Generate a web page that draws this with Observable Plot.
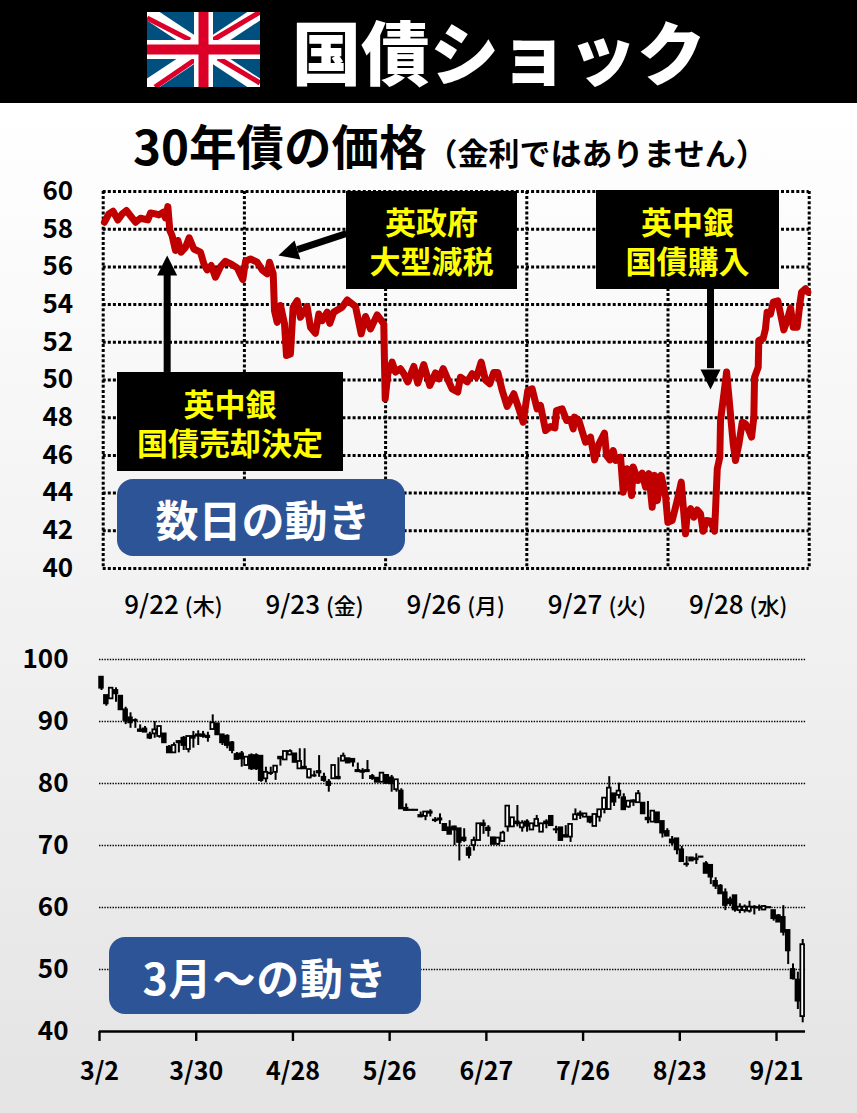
<!DOCTYPE html>
<html lang="ja"><head><meta charset="utf-8">
<script src="https://cdn.jsdelivr.net/npm/d3@7"></script>
<script src="https://cdn.jsdelivr.net/npm/@observablehq/plot@0.6"></script>
<style>
html,body{margin:0;padding:0}
body{width:857px;height:1113px;position:relative;overflow:hidden;font-family:"Noto Sans CJK JP","Noto Sans",sans-serif;background:linear-gradient(#ffffff 103px,#e4e4e4 1113px)}
.abs{position:absolute}
.box{position:absolute;background:#000;color:#ff0;font-weight:700;font-size:31px;line-height:39px;display:flex;align-items:center;justify-content:center;text-align:center}
.pill{position:absolute;background:#2c5496;color:#fff;font-weight:700;font-size:43px;border-radius:16px;display:flex;align-items:center;justify-content:center;white-space:nowrap}
</style></head><body>
<div class="abs" style="left:0;top:0;width:857px;height:103px;background:#000"></div>
<svg class="abs" style="left:147px;top:12px" width="113" height="75" viewBox="0 0 113 75">
<rect width="113" height="75" fill="#00507f"/>
<g stroke="#fff" stroke-width="14"><line x1="0" y1="0" x2="113" y2="75"/><line x1="113" y1="0" x2="0" y2="75"/></g>
<g stroke="#dc0028" stroke-width="5"><line x1="0" y1="6" x2="43" y2="28"/><line x1="113" y1="0" x2="66" y2="28"/><line x1="71" y1="46" x2="113" y2="71"/><line x1="49" y1="47" x2="8" y2="75"/></g>
<rect x="47" width="19" height="75" fill="#fff"/><rect y="28" width="113" height="19" fill="#fff"/>
<rect x="51.5" width="10" height="75" fill="#dc0028"/><rect y="32.5" width="113" height="10" fill="#dc0028"/>
</svg>
<div class="abs" id="title" style="left:292px;top:0;height:100px;line-height:100px;color:#fff;font-weight:900;font-size:69px;white-space:nowrap">国債ショック</div>
<div class="abs" id="sub" style="left:133px;top:115px;height:60px;line-height:60px;color:#000;font-weight:700;font-size:47.5px;white-space:nowrap">30年債の価格<span style="font-size:31px;margin-left:0">（金利ではありません）</span></div>
<script>
// 30-year gilt price, intraday (x = trading days since 9/22 open)
const lineDays = [.009,.04,.07,.104,.134,.165,.198,.229,.264,.316,.335,.37,.394,.425,.441,.458,.472,.488,.512,.529,.552,.583,.609,.642,.689,.713,.736,.765,.795,.831,.866,.913,.949,.989,1.008,1.043,1.09,1.126,1.161,1.178,1.204,1.213,1.232,1.256,1.284,1.298,1.326,1.345,1.374,1.397,1.444,1.468,1.503,1.527,1.551,1.586,1.605,1.633,1.692,1.728,1.787,1.827,1.858,1.893,1.94,1.987,1.997,2.016,2.046,2.07,2.105,2.129,2.157,2.2,2.228,2.27,2.313,2.353,2.377,2.408,2.448,2.471,2.511,2.53,2.578,2.613,2.644,2.677,2.707,2.738,2.766,2.795,2.826,2.861,2.908,2.944,2.974,3.007,3.038,3.073,3.097,3.133,3.168,3.199,3.21,3.25,3.282,3.31,3.329,3.338,3.369,3.416,3.451,3.48,3.51,3.55,3.565,3.588,3.612,3.628,3.664,3.683,3.711,3.742,3.754,3.787,3.817,3.841,3.864,3.888,3.905,3.924,3.952,3.983,3.999,4.03,4.065,4.094,4.124,4.136,4.16,4.183,4.207,4.23,4.249,4.273,4.301,4.33,4.349,4.367,4.372,4.396,4.415,4.438,4.462,4.478,4.502,4.526,4.549,4.573,4.592,4.608,4.613,4.639,4.643,4.674,4.69,4.702,4.726,4.745,4.778,4.797,4.82,4.844,4.868,4.887,4.915,4.934,4.946,4.974,4.99];
const linePrices = [58.37,58.81,58.95,58.49,58.81,58.99,58.67,58.37,58.58,58.49,58.86,58.81,58.76,58.9,58.6,59.2,57.93,57.66,56.87,57.4,56.78,57.04,57.54,56.95,56.78,56.16,55.84,56.07,55.45,56.02,56.3,56.12,55.95,55.33,56.3,56.42,56.25,55.84,55.63,56.25,55.63,53.68,53.06,53.95,52.98,51.3,51.38,53.86,54.21,53.33,53.9,52.8,52.48,53.5,53.15,53.6,53.0,53.6,53.86,54.25,53.9,52.45,53.37,52.71,53.45,52.98,49.0,50.33,50.95,50.42,50.6,50.33,49.9,50.72,49.83,50.82,49.71,50.38,50.06,50.6,49.9,49.53,49.36,50.15,49.9,50.33,50.15,50.95,50.0,49.8,50.4,50.4,49.44,48.6,49.27,48.47,47.76,49.44,49.53,48.47,48.65,47.32,47.53,47.46,48.38,48.47,47.85,47.9,47.41,48.03,47.85,46.7,46.97,45.76,46.6,47.18,45.99,45.76,46.26,45.73,45.91,44.05,45.29,43.87,45.38,44.67,45.06,44.32,45.03,43.25,44.94,43.6,44.94,43.8,42.46,42.55,43.6,44.58,41.84,42.9,43.17,42.72,43.11,42.9,41.98,42.55,42.51,41.98,45.29,45.9,47.85,49.27,50.42,48.56,46.6,45.73,46.6,47.76,47.67,47.32,46.97,48.03,50.15,50.68,52.1,52.2,52.7,53.6,53.5,54.13,54.2,53.5,52.66,53.16,53.83,52.8,52.8,54.04,54.66,54.84,54.66];
const dayLabels = ["9/22","9/23","9/26","9/27","9/28"];
const weekdays = ["(木)","(金)","(月)","(火)","(水)"];
const dayMids = [.5,1.5,2.5,3.5,4.5];
const priceTicks1 = [40,42,44,46,48,50,52,54,56,58,60];
const dayGrid = [0,1,2,3,4,5];

// daily candles since March
const opens = [97.15,94.19,93.65,95.0,94.08,91.88,90.59,90.16,88.65,88.8,
87.85,88.0,87.58,88.0,85.86,84.94,86.77,87.3,85.48,87.58,
87.85,87.85,87.63,88.7,89.62,87.85,87.63,86.56,84.67,84.78,
82.9,84.5,84.5,84.4,80.75,81.66,81.8,83.97,83.8,84.6,
84.78,82.36,82.63,80.9,81.25,81.93,81.0,80.2,80.76,81.0,
83.6,84,83.9,82.1,82,82.1,81.13,80.86,80.2,81.3,
80.9,79,78.77,76,75.7,75.7,74.84,74.7,75.4,74.1,
74.3,73.4,72.85,73,72.7,71.2,69.5,70,70.8,73.5,
72.8,71.24,70.2,70.65,73,73,73.8,72.85,73.8,72.5,
73.1,72.15,73.8,74.7,72.55,72.85,71.6,71.35,74.15,75.1,
74.57,74.57,73.07,74.57,75.8,75.8,78.34,78.07,77.7,76.2,
77.2,76.9,76.83,74.4,73.77,75.27,73.87,72.26,70.9,71.08,
69.3,67,68,67.86,68.15,67.05,66.8,64.2,63.44,62.37,
61.24,61.9,59.5,59.5,59.4,60.06,60,59.6,60,59.5,
58.66,58.4,56.3,50,48.3,42.4];
const closes = [95.37,92.85,95.37,94.46,91.88,90.16,89.78,90.1,88.4,88.27,
87.3,88.65,89.19,86.56,84.94,86.13,86.56,86.13,87.58,87.3,
87.63,87.58,87.4,89.78,87.85,86.56,86.13,85.32,83.87,83.97,
84.24,82.36,82.36,80.48,81.8,81.6,82.8,84.24,85.16,85.16,
83.4,83.55,82.36,82.25,81.2,81.7,80.48,79.67,82.9,80.76,
84.4,83.3,83.45,81.9,81.8,81.9,80.8,80.2,81.67,80,
79.95,80.6,75.9,75.65,75.65,75.65,74.6,75.4,75.2,74,
74.1,72.4,71.8,72.5,70.5,70.8,68.4,70.8,73.5,73.2,
72.4,70.17,71.2,72,76.35,74.47,73.5,73.6,73.1,73.5,
74.2,73.5,73.5,73.2,72.5,70.8,71.35,73.4,74.95,74.85,
75.1,73.77,75,75.76,77.64,79.25,77,78.77,75.76,77.15,
77,78.34,75.1,74.14,75.54,73.66,72,71.5,70.4,69.3,
67.4,66.9,67.5,67.7,68.1,65.5,64.9,63.44,62.2,60.33,
60.6,59.6,60.06,60.06,60.06,59.96,59.9,60.16,59.95,58.2,
57.64,56,53,48.5,44.9,54];
const highs = [97.15,94.19,95.37,95.43,94.08,92.3,91.4,90.43,89.46,89.2,
88.27,90.0,89.19,88.0,86.13,86.56,86.93,87.58,87.58,88.4,
88.5,88.4,88.27,91.07,89.62,87.85,87.85,86.77,85.0,85.16,
84.24,84.78,84.78,84.4,82.63,82.63,82.8,84.24,85.16,85.43,
84.78,85.6,85.6,82.25,82.0,84.5,81.66,80.64,82.9,84.15,
84.9,84,83.9,83.3,82.4,83.7,81.46,80.86,81.67,81.4,
81.3,80.6,79.15,76.7,75.7,75.7,75.4,75.4,75.76,74.5,
75.1,73.4,74,73.1,72.7,72.7,69.8,71.35,73.5,74.1,
73.2,71.24,71.2,72.3,76.35,74.47,76.45,74,74.15,73.5,
74.85,73.5,74.15,74.7,73.1,72.85,73.2,73.4,75.9,75.54,
75.1,74.57,75,75.76,77.64,81.1,78.34,80.06,78.34,77.15,
77.37,78.87,76.83,77.1,75.54,75.27,73.87,72.7,71.45,71.08,
69.84,68.2,68,68.66,68.15,67.4,66.8,64.8,63.7,63,
61.67,61.9,60.6,60.4,61,60.3,60.4,60.3,60,59.5,
58.87,60.3,56.3,50.9,49.57,54.84];
const lows = [95.0,92.47,93.65,93.1,91.88,89.5,88.9,88.9,88.27,88.27,
87.09,87.3,87.3,86.56,84.94,84.94,84.94,85.32,84.94,85.7,
86.13,87.3,86.66,88.7,87.85,86.13,85.6,84.8,83.87,82.63,
82.9,82.1,82.1,80.2,80.1,81.3,80.5,82.8,83.8,84.5,
83.4,82.36,82.36,80.75,81.0,81.0,80.2,78.6,80.76,80.6,
83.6,83.3,82.64,81.9,80.65,81.9,80.5,80.2,80.2,80,
78.6,78.6,75.9,75.5,75.65,75.65,74.5,74,74.6,73.7,
73.4,72.4,71.8,70,67.5,70.5,67.85,69.1,70.8,71.8,
71.35,70.17,70,70.65,72.15,73,73,72.15,72.15,72.5,
73.1,72.15,72.7,73.2,71.9,70.8,71.24,70.5,74.15,74.2,
74.57,73.5,73.07,73.77,75.1,75.8,76.3,77.5,75.76,76,
76.3,76.9,75.1,73.5,73.77,73.66,71.2,71.5,70,68.5,
67.3,66.5,67.5,66.94,68.1,65.5,63.7,62.9,62.2,59.5,
60.16,59.25,59,59.1,59.1,58.8,59.4,59.5,59.95,57.8,
57.64,55.4,50.8,48.3,43.55,41.4];
const dateLabels = ["3/2","3/30","4/28","5/26","6/27","7/26","8/23","9/21"];
const dateTicks = [0,20,40,60,80,100,120,140];
const priceTicks2 = [40,50,60,70,80,90,100];

const font = '"Noto Sans CJK JP","Noto Sans",sans-serif';
const lineData = lineDays.map((d,i)=>({d,p:linePrices[i]}));
const dashGrid = {stroke:"#000",strokeWidth:3,strokeDasharray:"3 2.1"};

// annotation arrows, in the chart's own units
const upShaft = [{x:.453,y1:50.4,y2:55.6}];
const upHead = [{x:.382,y:55.54},{x:.453,y:56.6},{x:.524,y:55.54}];
const downShaft = [{x:4.301,y1:50.6,y2:54.8}];
const downHead = [{x:4.23,y:50.56},{x:4.301,y:49.5},{x:4.372,y:50.56}];
const leftShaft = [{x1:1.376,y1:56.92,x2:1.723,y2:57.77}];
const leftHead = [{x:1.397,y:56.39},{x:1.241,y:56.6},{x:1.355,y:57.4}];

const chart1 = Plot.plot({
  width:857,height:468,marginLeft:102.7,marginRight:48.3,marginTop:21,marginBottom:70,
  style:{background:"transparent",fontFamily:font},
  x:{domain:[0,5],axis:null},
  y:{domain:[40,60],axis:null},
  marks:[
    Plot.ruleY(priceTicks1,{...dashGrid}),
    Plot.ruleX(dayGrid,{...dashGrid}),
    Plot.axisY({ticks:priceTicks1,tickSize:0,tickPadding:30,fontSize:26,fontWeight:700,label:null,color:"#000"}),
    Plot.line(lineData,{x:"d",y:"p",stroke:"#c00000",strokeWidth:7,strokeLinejoin:"round",strokeLinecap:"round",curve:"linear"}),
    Plot.ruleX(upShaft,{x:"x",y1:"y1",y2:"y2",stroke:"#000",strokeWidth:7}),
    Plot.line(upHead,{x:"x",y:"y",fill:"#000",stroke:"none"}),
    Plot.ruleX(downShaft,{x:"x",y1:"y1",y2:"y2",stroke:"#000",strokeWidth:7}),
    Plot.line(downHead,{x:"x",y:"y",fill:"#000",stroke:"none"}),
    Plot.link(leftShaft,{x1:"x1",y1:"y1",x2:"x2",y2:"y2",stroke:"#000",strokeWidth:7}),
    Plot.line(leftHead,{x:"x",y:"y",fill:"#000",stroke:"none"}),
    Plot.text(dayMids,{x:d=>d,frameAnchor:"bottom",dy:45,text:(d,i)=>dayLabels[i],textAnchor:"end",dx:5,fontSize:26,fontWeight:500,fill:"#000"}),
    Plot.text(dayMids,{x:d=>d,frameAnchor:"bottom",dy:45,text:(d,i)=>weekdays[i],textAnchor:"start",dx:11,fontSize:22,fontWeight:500,fill:"#000"})
  ]
});
chart1.style.cssText+=";position:absolute;left:0;top:170px;max-width:none";
document.body.appendChild(chart1);

const candles = opens.map((o,i)=>({i,o,c:closes[i],h:highs[i],l:lows[i]}));
const chart2 = Plot.plot({
  width:857,height:481,marginLeft:99,marginRight:51,marginTop:29,marginBottom:80,
  style:{background:"transparent",fontFamily:font},
  x:{domain:[0,146.2],axis:null},
  y:{domain:[40,100],axis:null},
  marks:[
    Plot.ruleY(priceTicks2.filter(d=>d>40),{stroke:"#000",strokeWidth:1.4,strokeDasharray:"1.4 1.3"}),
    Plot.axisY({ticks:priceTicks2,tickSize:0,tickPadding:31,fontSize:26,fontWeight:700,label:null,color:"#000"}),
    Plot.ruleX(candles,{x:"i",y1:"l",y2:"h",dx:2,stroke:"#000",strokeWidth:2}),
    Plot.rect(candles,{x1:d=>d.i-.38,x2:d=>d.i+.38,y1:"o",y2:"c",dx:2,fill:d=>d.c>d.o?"#fff":"#000",stroke:"#000",strokeWidth:1.8}),
    Plot.ruleY([40],{stroke:"#000",strokeWidth:2.4,x1:0,x2:146}),
    Plot.ruleX(dateTicks,{y1:40,y2:38.4,stroke:"#000",strokeWidth:2.4}),
    Plot.text(dateTicks,{x:d=>d,frameAnchor:"bottom",dy:48,text:(d,i)=>dateLabels[i],fontSize:25,fontWeight:700,fill:"#000"})
  ]
});
chart2.style.cssText+=";position:absolute;left:0;top:630px;max-width:none";
document.body.appendChild(chart2);

function addBox(cls,text,l,t,w,h,extra=""){
  const e=document.createElement("div");e.className=cls;
  e.style.cssText=`left:${l}px;top:${t}px;width:${w}px;height:${h}px;${extra}`;
  e.innerHTML=text;document.body.appendChild(e);
}
addBox("box","英政府<br>大型減税",346,191,171,98);
addBox("box","英中銀<br>国債購入",596,190,183,99);
addBox("box","英中銀<br>国債売却決定",117,372,226,99);
addBox("pill","数日の動き",117,479,288,77,"box-sizing:border-box;padding-left:4px");
addBox("pill","3月〜の動き",109,937,312,77,"letter-spacing:.8px");
</script>
</body></html>
